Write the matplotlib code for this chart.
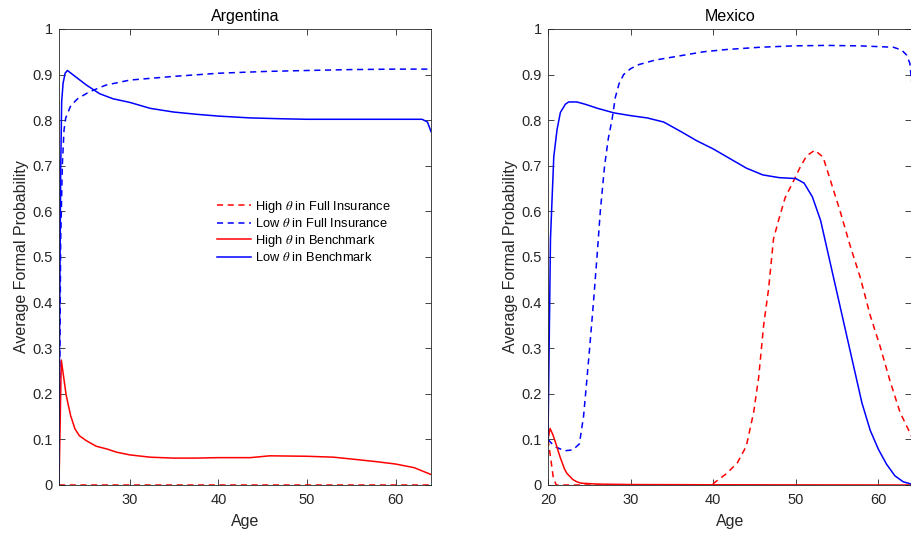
import matplotlib
matplotlib.use("Agg")
import matplotlib.pyplot as plt
from matplotlib.ticker import FuncFormatter

plt.rcParams['font.family'] = ['Liberation Sans', 'DejaVu Sans']
plt.rcParams['mathtext.fontset'] = 'stix'

# Argentina
arg_hi_fi_age = [22, 64]
arg_hi_fi = [0.0, 0.0]

arg_lo_fi_age = [22, 22.19, 22.38, 22.57, 22.76, 23.33, 24.1, 25.4, 27.3, 30, 34.9, 40, 45.5, 50, 54.9, 60, 64]
arg_lo_fi = [0.0, 0.538, 0.704, 0.779, 0.805, 0.832, 0.847, 0.862, 0.877, 0.888, 0.896, 0.903, 0.907, 0.909, 0.911, 0.912, 0.912]

arg_hi_bm_age = [22, 22.26, 22.8, 23.3, 23.8, 24.3, 25.1, 26.2, 27.4, 28.5, 30, 32.3, 34.9, 37.5, 40, 43.6,
                 45.8, 50, 53, 56, 57.9, 60, 62.1, 64]
arg_hi_bm = [0.0, 0.274, 0.198, 0.153, 0.123, 0.108, 0.097, 0.085, 0.079, 0.072, 0.066, 0.061, 0.059, 0.059,
             0.060, 0.060, 0.064, 0.063, 0.061, 0.055, 0.051, 0.046, 0.038, 0.023]

arg_lo_bm_age = [22, 22.08, 22.19, 22.3, 22.46, 22.69, 22.95, 25.1, 26.6, 28.1, 30, 32.3, 34.9, 37.5, 40, 43.6,
                 47.4, 50, 53, 56.8, 60, 63, 63.6, 64]
arg_lo_bm = [0.0, 0.387, 0.689, 0.84, 0.881, 0.903, 0.909, 0.877, 0.858, 0.847, 0.839, 0.826, 0.818, 0.813,
             0.809, 0.805, 0.803, 0.802, 0.802, 0.802, 0.802, 0.802, 0.796, 0.775]

# Mexico
mex_hi_fi_age = [20, 20.3, 20.65, 21, 39.5, 40, 41.6, 42.9, 44, 44.9, 45.5, 46.1, 46.7, 47.3, 47.9, 48.7, 49.7,
                 50.5, 51.3, 52.3, 53.3, 54.1, 55.4, 56.6, 57.8, 59, 60.2, 61.4, 62.6, 64]
mex_hi_fi = [0.10, 0.062, 0.015, 0.0, 0.0, 0.003, 0.025, 0.048, 0.085, 0.16, 0.236, 0.35, 0.43, 0.54, 0.58,
             0.63, 0.666, 0.696, 0.722, 0.734, 0.719, 0.673, 0.598, 0.523, 0.455, 0.372, 0.304, 0.228, 0.16, 0.107]

mex_lo_fi_age = [20, 20.5, 21, 22, 23, 23.8, 24.3, 24.7, 25.04, 25.5, 25.93, 26.33, 26.85, 27.3, 27.74, 28.15,
                 28.6, 29.15, 30, 31, 33, 35.6, 38.8, 41.6, 45.7, 49.7, 53.7, 57.8, 61.8, 62.8, 63.4, 63.8, 64]
mex_lo_fi = [0.10, 0.09, 0.083, 0.075, 0.077, 0.09, 0.15, 0.23, 0.30, 0.40, 0.50, 0.60, 0.70, 0.76, 0.80, 0.85,
             0.88, 0.90, 0.913, 0.922, 0.932, 0.94, 0.95, 0.955, 0.96, 0.963, 0.964, 0.963, 0.96, 0.954, 0.943,
             0.925, 0.885]

mex_hi_bm_age = [20, 20.25, 20.6, 21, 21.45, 22, 22.27, 23, 23.5, 24, 26, 30, 40, 64]
mex_hi_bm = [0.10, 0.124, 0.11, 0.088, 0.062, 0.035, 0.026, 0.012, 0.007, 0.004, 0.002, 0.001, 0.0005, 0.0]

mex_lo_bm_age = [20, 20.3, 20.7, 21.1, 21.5, 22.1, 22.5, 23.5, 24.5, 26, 28, 30, 32, 34, 36, 38, 40, 42, 44, 46,
                 48, 50, 51, 52, 53, 54, 55, 56, 57, 58, 59, 60, 61, 62, 63, 64]
mex_lo_bm = [0.10, 0.54, 0.72, 0.78, 0.817, 0.835, 0.84, 0.84, 0.835, 0.826, 0.816, 0.81, 0.805, 0.796, 0.776,
             0.755, 0.737, 0.716, 0.695, 0.68, 0.674, 0.672, 0.662, 0.632, 0.58, 0.50, 0.42, 0.34, 0.26, 0.18,
             0.12, 0.078, 0.045, 0.02, 0.007, 0.002]

labels = [r'High $\theta$ in Full Insurance', r'Low $\theta$ in Full Insurance',
          r'High $\theta$ in Benchmark', r'Low $\theta$ in Benchmark']

W, H = 912, 538
fig = plt.figure(figsize=(W / 100, H / 100), dpi=100)
ax1 = fig.add_axes([59 / W, (H - 485) / H, (431 - 59) / W, (485 - 29) / H])
ax2 = fig.add_axes([548 / W, (H - 485) / H, (911.5 - 548) / W, (485 - 29) / H])

dash = (0, (4, 3))
lw = 1.1
gray = (0.15, 0.15, 0.15)


def draw(ax, series, xlim, xticks, title):
    for (x, y), col, ls in zip(series, ['r', 'b', 'r', 'b'], [dash, dash, '-', '-']):
        ax.plot(x, y, color=col, linestyle=ls, lw=lw)
    ax.set_xlim(xlim)
    ax.set_ylim(0, 1)
    ax.set_xticks(xticks)
    ax.set_yticks([i / 10 for i in range(11)])
    ax.yaxis.set_major_formatter(FuncFormatter(lambda v, p: '%g' % round(v, 1)))
    ax.tick_params(direction='in', top=True, right=True, length=4, width=0.6,
                   labelsize=10.5, colors=gray, labelcolor=gray)
    ax.tick_params(axis='x', pad=6)
    ax.tick_params(axis='y', pad=4.5)
    for s in ax.spines.values():
        s.set_color(gray)
        s.set_linewidth(0.6)
    ax.set_title(title, fontsize=11.5, pad=6)
    ax.set_xlabel('Age', fontsize=11.5, color=gray, labelpad=5)
    ax.set_ylabel('Average Formal Probability', fontsize=11.5, color=gray, labelpad=2.5)


draw(ax1, [(arg_hi_fi_age, arg_hi_fi), (arg_lo_fi_age, arg_lo_fi),
           (arg_hi_bm_age, arg_hi_bm), (arg_lo_bm_age, arg_lo_bm)],
     (22, 64), [30, 40, 50, 60], 'Argentina')
draw(ax2, [(mex_hi_fi_age, mex_hi_fi), (mex_lo_fi_age, mex_lo_fi),
           (mex_hi_bm_age, mex_hi_bm), (mex_lo_bm_age, mex_lo_bm)],
     (20, 64), [20, 30, 40, 50, 60], 'Mexico')
ax2.spines['right'].set_visible(False)

ax1.legend(labels, loc='center left', bbox_to_anchor=(0.425, 0.556), frameon=False,
           fontsize=9.3, handlelength=2.65, handletextpad=0.3, labelspacing=0.2,
           borderpad=0, borderaxespad=0)

fig.savefig('out.png', dpi=100)
